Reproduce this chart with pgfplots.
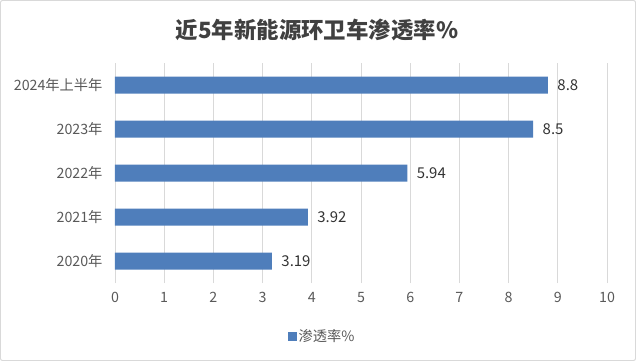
\documentclass[border=0pt]{standalone}
\usepackage{fontspec}
\setmainfont{Noto Sans CJK SC}
\usepackage{pgfplots}
\pgfplotsset{compat=1.18}
\definecolor{barblue}{HTML}{4F7EBB}
\definecolor{txt}{HTML}{595959}
\definecolor{gridc}{HTML}{D9D9D9}
\begin{document}
\begin{tikzpicture}
\useasboundingbox (0,0) rectangle (636bp,361bp);
\draw[gridc, line width=1bp, rounded corners=2bp] (0.5bp,0.5bp) rectangle (635.5bp,360.5bp);
\node[font=\fontsize{22.5}{26}\selectfont\bfseries, text=black!75] at (317bp,331bp) {近5年新能源环卫车渗透率\%};
\begin{axis}[
  at={(115bp,78bp)}, anchor=south west,
  scale only axis, width=492bp, height=220bp,
  xbar, bar width=17bp,
  xmin=0, xmax=10, xtick={0,...,10},
  ymin=-0.5, ymax=4.5, ytick={0,1,2,3,4},
  yticklabels={2020年,2021年,2022年,2023年,2024年上半年},
  axis line style={draw=none},
  major tick length=0pt,
  xmajorgrids, grid style={gridc, line width=0.8bp},
  ymajorgrids=false,
  /pgf/number format/assume math mode=true,
  tick label style={font=\fontsize{14.3}{16}\selectfont, text=txt},
  xticklabel style={yshift=-6bp},
  yticklabel style={xshift=-9bp},
  nodes near coords,
  nodes near coords style={font=\fontsize{15}{17}\selectfont, text=black!80, anchor=west, xshift=6bp},
  point meta=explicit symbolic,
  legend style={at={(0.421,-0.241)}, anchor=center, draw=none, fill=none,
    font=\fontsize{14.3}{16}\selectfont, text=txt, inner sep=0pt},
  legend image code/.code={\fill[#1] (0bp,-4.5bp) rectangle (9bp,4.5bp);},
]
\addplot[fill=barblue, draw=none] coordinates {
  (3.19,0) [3.19]
  (3.92,1) [3.92]
  (5.94,2) [5.94]
  (8.5,3) [8.5]
  (8.8,4) [8.8]
};
\addlegendentry{渗透率\%}
\end{axis}
\end{tikzpicture}
\end{document}
